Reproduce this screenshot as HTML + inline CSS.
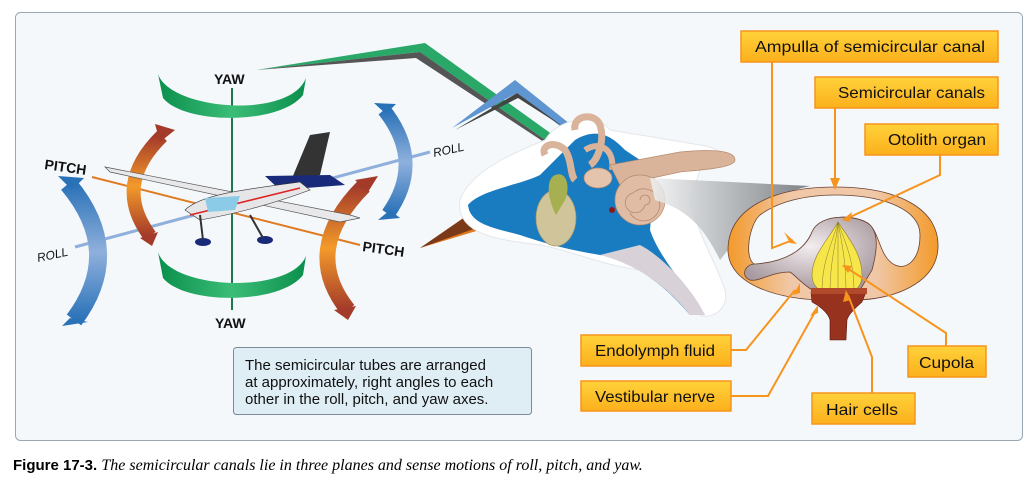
<!DOCTYPE html>
<html><head><meta charset="utf-8"><style>
body{margin:0;background:#fff;width:1033px;height:487px;overflow:hidden;font-family:"Liberation Sans",Arial,sans-serif}
svg{position:absolute;left:0;top:0}
.cap{position:absolute;left:13px;top:457px;font-size:15px;color:#000}
.cap b{font-family:"Liberation Sans",sans-serif}
.cap i{font-family:"Liberation Serif",serif;font-size:16px}
</style></head><body>
<svg width="1033" height="487" viewBox="0 0 1033 487">
<defs>
<linearGradient id="gr" x1="0" x2="1"><stop offset="0" stop-color="#0a8f4c"/><stop offset=".5" stop-color="#3bbd77"/><stop offset="1" stop-color="#0a8f4c"/></linearGradient>
<linearGradient id="bl" x1="0" y1="0" x2="0" y2="1"><stop offset="0" stop-color="#2a72b8"/><stop offset=".5" stop-color="#8fb0dc"/><stop offset="1" stop-color="#2a72b8"/></linearGradient>
<linearGradient id="or" x1="0" y1="0" x2="0" y2="1"><stop offset="0" stop-color="#a33a2a"/><stop offset=".5" stop-color="#f39a2a"/><stop offset="1" stop-color="#a33a2a"/></linearGradient>
<linearGradient id="lab" x1="0" y1="0" x2="0" y2="1"><stop offset="0" stop-color="#ffd23a"/><stop offset="1" stop-color="#fbb01c"/></linearGradient>
<linearGradient id="amp" x1="0" x2="1"><stop offset="0" stop-color="#f39a2a"/><stop offset=".3" stop-color="#f0c8a8"/><stop offset=".7" stop-color="#f0c8a8"/><stop offset="1" stop-color="#f39a2a"/></linearGradient>
<linearGradient id="fun" x1="0" x2="1"><stop offset="0" stop-color="#f0f2f4"/><stop offset="1" stop-color="#6a6e72"/></linearGradient>
<radialGradient id="cup" cx=".5" cy=".4" r=".6"><stop offset="0" stop-color="#f4eef0"/><stop offset="1" stop-color="#a89aa0"/></radialGradient>
</defs>
<rect x="15.5" y="12.5" width="1007" height="428" rx="5" fill="#f4f8fb" stroke="#9aa8b4" stroke-width="1"/>

<polygon points="256,70 425,43 560,140 548,142 420,52" fill="#2aa868"/>
<polygon points="256,70 420,52 548,142 550,146 416,58" fill="#555"/>
<polygon points="452,128 515,80 570,124 560,126 517,93" fill="#5f95d0"/>
<polygon points="455,130 517,93 565,128 518,98" fill="#444"/>
<polygon points="420,248 483,229 490,212 525,170 515,168 478,208" fill="#e07a20"/>
<polygon points="420,248 478,208 482,226" fill="#7a3a1a"/>

<path d="M460,200 C470,170 520,150 545,140 C560,115 600,115 610,130 L700,145 C735,150 730,170 700,170 L690,200 C700,240 715,260 725,290 C730,310 710,320 700,315 L640,270 C600,265 570,250 540,245 C500,240 455,235 460,200Z" fill="#fff" stroke="#e4e6ea"/>
<path d="M468,205 C480,190 520,185 540,175 L575,140 C600,125 615,140 625,150 L655,170 L650,230 C660,260 690,290 705,315 L690,315 C660,280 630,260 600,255 C570,250 550,245 520,235 C495,228 470,225 468,205Z" fill="#1a7cc0"/>
<path d="M600,255 C640,265 670,290 690,315 L705,315 C690,285 660,255 640,245Z" fill="#d8d2d8"/>
<path d="M575,130 C572,115 595,112 600,125 C605,140 598,160 590,165" fill="none" stroke="#d9b49a" stroke-width="7"/>
<path d="M545,155 C540,145 555,140 565,150 C572,160 570,175 575,180" fill="none" stroke="#d9b49a" stroke-width="7"/>
<path d="M585,150 C600,140 615,150 612,170" fill="none" stroke="#d9b49a" stroke-width="6"/>
<path d="M610,165 L680,152 C700,150 735,148 735,160 C735,168 700,170 680,172 L620,185Z" fill="#d9b49a" stroke="#b58a70" stroke-width=".7"/>
<ellipse cx="598" cy="178" rx="14" ry="10" fill="#e4c4ac" stroke="#b58a70" stroke-width=".7"/>
<circle cx="640" cy="200" r="25" fill="#e0bca4" stroke="#b58a70" stroke-width=".7"/>
<path d="M640,200 a5,5 0 1,1 5,5 a10,10 0 1,1 -12,-12 a16,16 0 1,1 -3,20" fill="none" stroke="#b58a70" stroke-width=".8"/>
<circle cx="612" cy="210" r="3" fill="#8a1a1a"/>
<ellipse cx="556" cy="218" rx="20" ry="28" fill="#cfc49a" stroke="#a49a70" stroke-width=".7"/>
<path d="M555,175 C568,170 570,190 565,200 L556,215 C548,200 545,180 555,175Z" fill="#a6b050"/>

<path d="M650,178 L810,186 C770,195 740,215 728,250 L720,260 C705,230 690,210 655,200Z" fill="url(#fun)" opacity=".85"/>

<path d="M835,187 C900,187 940,210 938,248 C936,285 890,300 855,300 L825,300 C780,300 728,285 728,250 C728,210 770,187 835,187Z" fill="url(#amp)" stroke="#6a4030" stroke-width=".8"/>
<path d="M835,195 C885,195 920,210 920,235 C920,262 905,270 895,265 C880,258 880,235 870,225 C860,215 820,212 812,232 C805,248 790,260 760,265 C742,268 748,225 760,215 C780,200 810,195 835,195Z" fill="#f4f8fb" stroke="#6a4030" stroke-width=".8"/>
<path d="M812,232 C820,212 860,215 870,225 C880,235 876,255 872,270 L860,290 L812,290 C800,282 795,275 790,272 C770,272 760,282 750,280 C740,276 745,264 755,264 C785,262 805,250 812,232Z" fill="url(#cup)" stroke="#6a4030" stroke-width=".8"/>
<path d="M838,222 C850,240 862,255 862,275 C862,290 850,295 838,295 C826,295 812,290 812,275 C812,255 828,240 838,222Z" fill="#f6e64a" stroke="#8a7a2a" stroke-width=".6"/>
<g stroke="#8a7a2a" stroke-width=".5" fill="none">
<path d="M838,222 C832,245 822,260 822,292"/><path d="M838,222 C836,245 830,260 830,294"/><path d="M838,222 V295"/><path d="M838,222 C842,245 846,260 846,294"/><path d="M838,222 C846,245 854,260 854,292"/></g>
<path d="M811,292 L866,292 L862,302 C855,308 848,315 847,320 L846,340 L830,340 L830,320 C828,312 818,305 812,302Z" fill="#96321e" stroke="#5a1a10" stroke-width=".6"/>
<rect x="811" y="288" width="56" height="6" fill="#b04a2a"/>

<line x1="232" y1="88" x2="232" y2="310" stroke="#1a7a4a" stroke-width="2"/>
<line x1="75" y1="247" x2="430" y2="152" stroke="#8fb0dc" stroke-width="3"/>
<line x1="92" y1="177" x2="360" y2="245" stroke="#e07a20" stroke-width="2"/>
<path d="M158,74 C170,110 290,120 306,78 L303,95 C280,125 185,125 163,98Z" fill="url(#gr)"/>
<path d="M158,252 C170,290 290,295 306,256 L303,275 C280,305 185,305 163,278Z" fill="url(#gr)"/>

<!-- side arrows as thick bands -->
<path d="M162,136 Q112,185 150,236" fill="none" stroke="url(#or)" stroke-width="14"/>
<polygon points="155,124 175,130 160,142" fill="#a33a2a"/><polygon points="140,238 158,232 152,246" fill="#a33a2a"/>
<path d="M364,186 Q300,250 348,310" fill="none" stroke="url(#or)" stroke-width="16"/>
<polygon points="355,180 378,176 368,192" fill="#a33a2a"/><polygon points="334,310 356,306 348,320" fill="#a33a2a"/>
<path d="M68,184 Q125,252 74,320" fill="none" stroke="url(#bl)" stroke-width="18"/>
<polygon points="58,176 84,178 72,190" fill="#2a72b8"/><polygon points="62,326 88,322 70,318" fill="#2a72b8"/>
<path d="M384,110 Q425,162 388,214" fill="none" stroke="url(#bl)" stroke-width="14"/>
<polygon points="374,103 396,104 386,114" fill="#2a72b8"/><polygon points="378,220 400,218 390,210" fill="#2a72b8"/>

<polygon points="105,167 350,215 360,218 340,222 110,172" fill="#e8e8ea" stroke="#555" stroke-width=".7"/>
<polygon points="310,135 330,132 320,175 290,183" fill="#333"/>
<polygon points="265,176 330,175 345,185 280,190" fill="#1a2a7a"/>
<path d="M185,210 C200,195 240,190 300,182 L310,190 C270,205 230,215 200,220Z" fill="#e6e6e8" stroke="#333" stroke-width=".6"/>
<path d="M190,215 L300,188" stroke="#d22" stroke-width="1.5"/>
<polygon points="205,198 240,196 235,210 208,212" fill="#8ccbe8"/>
<ellipse cx="203" cy="242" rx="8" ry="4" fill="#1a2a7a"/><ellipse cx="265" cy="240" rx="8" ry="4" fill="#1a2a7a"/>
<line x1="200" y1="215" x2="203" y2="240" stroke="#333" stroke-width="2"/><line x1="250" y1="215" x2="263" y2="238" stroke="#333" stroke-width="2"/>

<g font-family="Liberation Sans,Arial,sans-serif" font-weight="bold" font-size="14" fill="#111">
<text x="214" y="84">YAW</text><text x="215" y="328">YAW</text>
<text x="44" y="169" transform="rotate(8 44 169)">PITCH</text>
<text x="362" y="251" transform="rotate(8 362 251)">PITCH</text>
<text x="38" y="262" font-style="italic" font-size="12" font-weight="normal" transform="rotate(-12 38 262)">ROLL</text>
<text x="434" y="157" font-style="italic" font-size="12" font-weight="normal" transform="rotate(-12 434 157)">ROLL</text>
</g>

<rect x="233.5" y="347.5" width="298" height="67" rx="3" fill="#dfedf5" stroke="#7a8a9a"/>
<g font-size="15" fill="#111"><text x="245" y="370">The semicircular tubes are arranged</text><text x="245" y="387">at approximately, right angles to each</text><text x="245" y="404">other in the roll, pitch, and yaw axes.</text></g>

<g stroke="#f7941d" stroke-width="2" fill="none">
<path d="M772,62 V248 L793,240"/>
<path d="M835,108 V182"/>
<path d="M940,155 V175 L848,218"/>
<path d="M731,350 L746,350 L795,290"/>
<path d="M731,396 L768,396 L815,312"/>
<path d="M872,393 V357 L848,295"/>
<path d="M946,346 V333 L847,268"/>
</g>
<g fill="#f7941d">
<polygon points="797,244 784,232 790,243"/>
<polygon points="835,190 830,178 840,178"/>
<polygon points="842,220 852,212 850,222"/>
<polygon points="800,283 793,295 800,293"/>
<polygon points="818,305 810,316 818,313"/>
<polygon points="846,290 843,302 851,300"/>
<polygon points="842,265 852,266 848,273"/>
</g>
<g font-size="16" fill="#111">
<rect x="741" y="31" width="257" height="31" fill="url(#lab)" stroke="#f7941d" stroke-width="1.5"/><text x="755" y="52" textLength="230" lengthAdjust="spacingAndGlyphs">Ampulla of semicircular canal</text>
<rect x="815" y="77" width="183" height="31" fill="url(#lab)" stroke="#f7941d" stroke-width="1.5"/><text x="838" y="98" textLength="147" lengthAdjust="spacingAndGlyphs">Semicircular canals</text>
<rect x="865" y="124" width="133" height="31" fill="url(#lab)" stroke="#f7941d" stroke-width="1.5"/><text x="888" y="145" textLength="98" lengthAdjust="spacingAndGlyphs">Otolith organ</text>
<rect x="581" y="335" width="150" height="31" fill="url(#lab)" stroke="#f7941d" stroke-width="1.5"/><text x="595" y="356" textLength="120" lengthAdjust="spacingAndGlyphs">Endolymph fluid</text>
<rect x="581" y="381" width="150" height="30" fill="url(#lab)" stroke="#f7941d" stroke-width="1.5"/><text x="595" y="402" textLength="120" lengthAdjust="spacingAndGlyphs">Vestibular nerve</text>
<rect x="908" y="346" width="78" height="31" fill="url(#lab)" stroke="#f7941d" stroke-width="1.5"/><text x="919" y="368" textLength="55" lengthAdjust="spacingAndGlyphs">Cupola</text>
<rect x="812" y="393" width="103" height="31" fill="url(#lab)" stroke="#f7941d" stroke-width="1.5"/><text x="826" y="415" textLength="72" lengthAdjust="spacingAndGlyphs">Hair cells</text>
</g>
</svg>
<div class="cap"><b>Figure 17-3.</b> <i>The semicircular canals lie in three planes and sense motions of roll, pitch, and yaw.</i></div>
</body></html>
